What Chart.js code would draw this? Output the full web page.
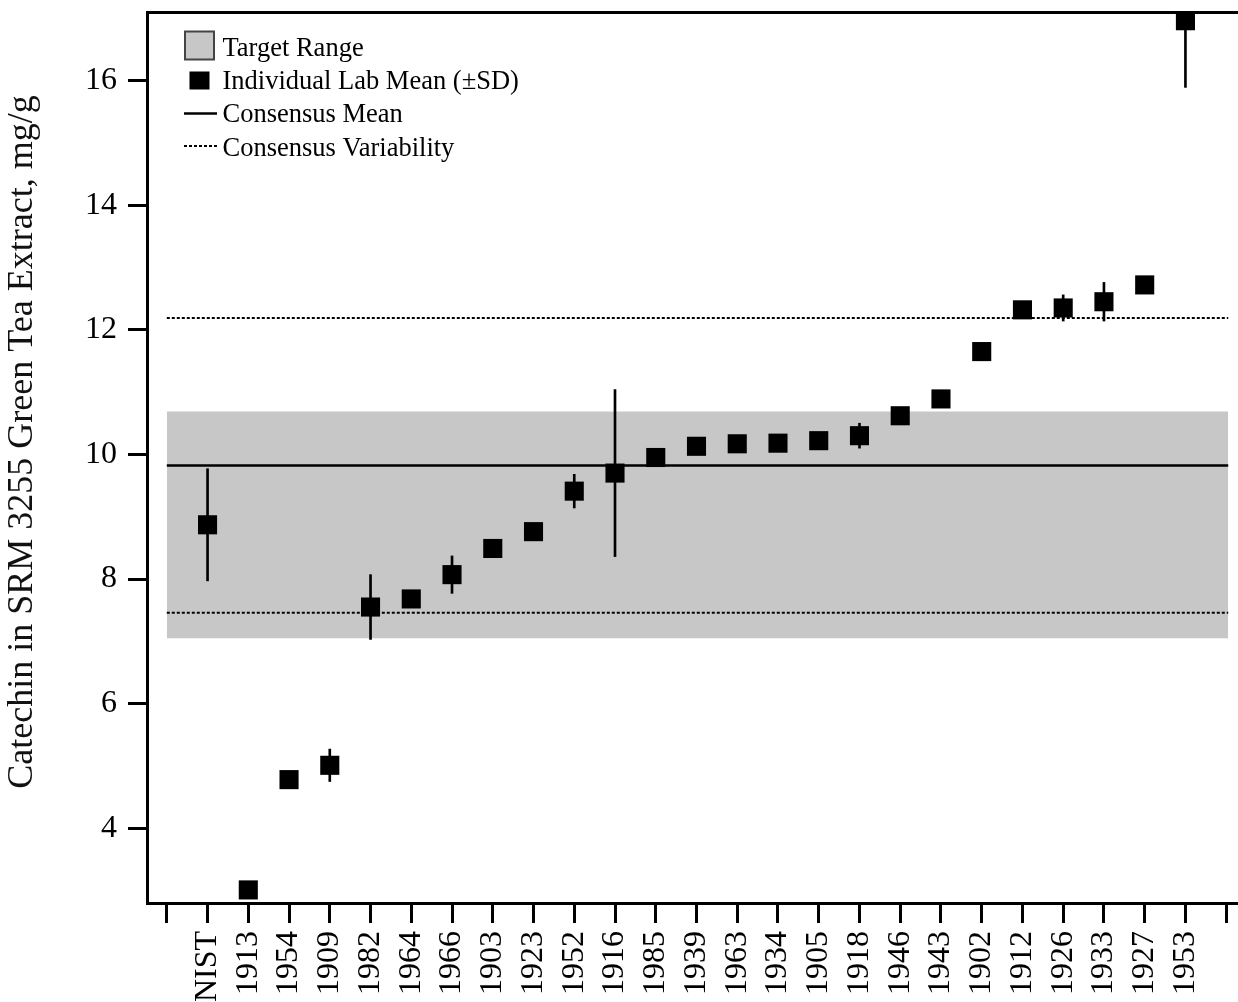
<!DOCTYPE html>
<html>
<head>
<meta charset="utf-8">
<script src="https://cdn.jsdelivr.net/npm/chart.js@4.4.1/dist/chart.umd.min.js"></script>
<style>
html,body{margin:0;padding:0;background:#fff;overflow:hidden;}
#wrap{width:1238px;height:1002px;overflow:hidden;}
canvas{display:block;}
</style>
</head>
<body>
<div id="wrap"><canvas id="c" width="1238" height="1002"></canvas></div>
<script>
// ---- data ----
const labs = ['NIST','1913','1954','1909','1982','1964','1966','1903','1923','1952','1916','1985','1939','1963','1934','1905','1918','1946','1943','1902','1912','1926','1933','1927','1953'];
const labMeans = [8.87, 3.01, 4.78, 5.01, 7.55, 7.68, 8.07, 8.49, 8.76, 9.41, 9.70, 9.95, 10.13, 10.17, 10.18, 10.22, 10.30, 10.62, 10.89, 11.65, 12.32, 12.35, 12.45, 12.72, 16.96];
const labSD = [0.90, 0.05, 0.06, 0.26, 0.52, 0.05, 0.30, 0.05, 0.05, 0.27, 1.34, 0.05, 0.05, 0.05, 0.05, 0.05, 0.20, 0.05, 0.05, 0.10, 0.05, 0.21, 0.31, 0.05, 1.07];
const yTicks = [4, 6, 8, 10, 12, 14, 16];
const xTickIdx = [-1,0,1,2,3,4,5,6,7,8,9,10,11,12,13,14,15,16,17,18,19,20,21,22,23,24,25];
const targetRange = [7.05, 10.69];
const consensusMean = 9.82;
const consensusVar = [7.46, 12.19];
const lineSpan = [-1, 25.05];
const legendLabels = ['Target Range', 'Individual Lab Mean (\u00B1SD)', 'Consensus Mean', 'Consensus Variability'];
const yTitle = 'Catechin in SRM 3255 Green Tea Extract, mg/g';

// ---- chart ----
const FONT = "'Liberation Serif', 'Times New Roman', serif";
Chart.defaults.font.family = FONT;
Chart.defaults.color = '#000';

const hline = (y) => lineSpan.map(x => ({x: x, y: y}));

const zeroPad = (s) => { s.paddingLeft = 0; s.paddingRight = 0; s.paddingTop = 0; s.paddingBottom = 0; };

const decorPlugin = {
  id: 'decor',
  afterDraw(chart) {
    const c = chart.ctx;
    c.save();
    // y axis title
    c.translate(23, 442);
    c.rotate(-Math.PI / 2);
    c.fillStyle = '#111';
    c.font = "36px " + FONT;
    c.textAlign = 'center';
    c.textBaseline = 'middle';
    c.fillText(yTitle, 0, 0);
    c.restore();

    c.save();
    // Target range box
    c.fillStyle = '#c7c7c7';
    c.strokeStyle = '#444';
    c.lineWidth = 2;
    c.beginPath();
    c.rect(185, 31.5, 29, 28);
    c.fill();
    c.stroke();
    // Lab mean square
    c.fillStyle = '#000';
    c.fillRect(189.5, 71.5, 20, 18);
    // Consensus mean line
    c.strokeStyle = '#000';
    c.lineWidth = 2.5;
    c.beginPath(); c.moveTo(184, 113.5); c.lineTo(217, 113.5); c.stroke();
    // Consensus variability dotted
    c.lineWidth = 2;
    c.setLineDash([3, 2]);
    c.beginPath(); c.moveTo(184, 146); c.lineTo(217, 146); c.stroke();
    c.setLineDash([]);
    // labels
    c.fillStyle = '#000';
    c.font = "26.5px " + FONT;
    c.textAlign = 'left';
    c.textBaseline = 'alphabetic';
    const baselines = [55.5, 89, 122, 155.5];
    legendLabels.forEach((t, i) => c.fillText(t, 222.5, baselines[i]));
    c.restore();
  }
};

const X_MIN = -1.486, X_MAX = 25.29;

new Chart(document.getElementById('c'), {
  type: 'scatter',
  data: {
    datasets: [
      {
        type: 'line', label: 'Target Range', data: hline(targetRange[1]),
        showLine: true, borderWidth: 0, borderColor: 'rgba(0,0,0,0)',
        backgroundColor: '#c7c7c7', fill: {value: targetRange[0]},
        pointRadius: 0, order: 10
      },
      {
        type: 'line', label: 'Consensus Mean', data: hline(consensusMean),
        showLine: true, borderColor: '#000', borderWidth: 2.5, pointRadius: 0, fill: false, order: 5
      },
      {
        type: 'line', label: 'Consensus Variability', data: hline(consensusVar[0]),
        showLine: true, borderColor: '#000', borderWidth: 2, borderDash: [3, 2], pointRadius: 0, fill: false, order: 5
      },
      {
        type: 'line', label: 'Consensus Variability (upper)', data: hline(consensusVar[1]),
        showLine: true, borderColor: '#000', borderWidth: 2, borderDash: [3, 2], pointRadius: 0, fill: false, order: 5
      },
      {
        type: 'bar', label: 'SD',
        data: labMeans.map((m, i) => ({x: i, y: [m - labSD[i], m + labSD[i]]})),
        backgroundColor: '#000', borderWidth: 0, barThickness: 2, clip: 0, order: 2
      },
      {
        type: 'scatter', label: 'Individual Lab Mean (\u00B1SD)',
        data: labMeans.map((m, i) => ({x: i, y: m})),
        pointStyle: 'rect', pointRadius: 13.5, pointHoverRadius: 13.5,
        backgroundColor: '#000', borderColor: '#000', borderWidth: 0, order: 1
      }
    ]
  },
  options: {
    responsive: false, animation: false, devicePixelRatio: 1,
    events: [],
    layout: {autoPadding: false, padding: {top: 12, left: 0, right: 0, bottom: 0}},
    plugins: {legend: {display: false}, tooltip: {enabled: false}},
    scales: {
      x: {
        type: 'linear', position: 'bottom', min: X_MIN, max: X_MAX, offset: false,
        afterBuildTicks: (s) => { s.ticks = xTickIdx.map(v => ({value: v})); },
        afterFit: (s) => { s.height = 99; zeroPad(s); },
        ticks: {
          autoSkip: false, minRotation: 90, maxRotation: 90, padding: 8,
          font: {size: 32}, color: '#000',
          callback: (v) => (labs[v] !== undefined ? labs[v] : '')
        },
        grid: {display: true, offset: false, drawOnChartArea: false, drawTicks: true, tickLength: 20, tickWidth: 3, tickColor: '#000'},
        border: {display: true, width: 3, color: '#000', z: 1}
      },
      xTop: {
        type: 'linear', position: 'top', display: true, min: X_MIN, max: X_MAX, offset: false,
        afterFit: (s) => { s.height = 0; zeroPad(s); },
        ticks: {display: false},
        grid: {display: false, offset: false, drawTicks: false},
        border: {display: true, width: 3, color: '#000', z: 1}
      },
      y: {
        type: 'linear', position: 'left', min: 2.8, max: 17.1,
        afterBuildTicks: (s) => { s.ticks = yTicks.map(v => ({value: v})); },
        afterFit: (s) => { s.width = 147; zeroPad(s); },
        ticks: {padding: 11, font: {size: 32}, color: '#000'},
        grid: {display: true, drawOnChartArea: false, drawTicks: true, tickLength: 19, tickWidth: 3, tickColor: '#000'},
        border: {display: true, width: 3, color: '#000', z: 1},
        title: {display: false}
      }
    }
  },
  plugins: [decorPlugin]
});
</script>
</body>
</html>
